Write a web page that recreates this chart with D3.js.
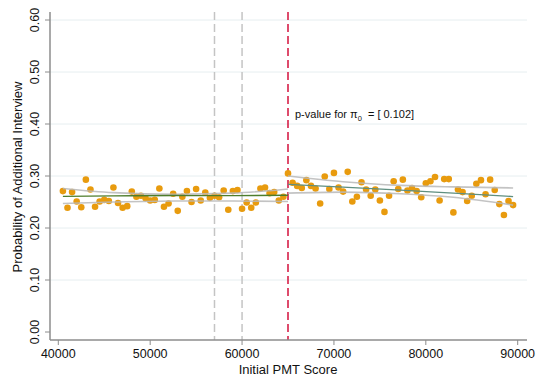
<!DOCTYPE html>
<html>
<head>
<meta charset="utf-8">
<script src="https://cdn.jsdelivr.net/npm/d3@7"></script>
<style>
  html, body { margin: 0; padding: 0; background: #fff; }
  svg { display: block; font-family: "Liberation Sans", Arial, sans-serif; }
</style>
</head>
<body>
<svg id="chart" width="540" height="379"></svg>
<script>
// binned scatter: PMT score bins of 500
const binStart = 40500;
const binStep = 500;
const probs = [
  0.271, 0.239, 0.269, 0.251, 0.240, 0.293, 0.274, 0.241, 0.251, 0.254,
  0.252, 0.278, 0.248, 0.239, 0.242, 0.270, 0.260, 0.262, 0.257, 0.253,
  0.254, 0.276, 0.241, 0.247, 0.266, 0.233, 0.260, 0.271, 0.250, 0.275,
  0.253, 0.268, 0.258, 0.262, 0.259, 0.272, 0.235, 0.271, 0.273, 0.237,
  0.249, 0.239, 0.249, 0.276, 0.278, 0.267, 0.269, 0.253, 0.260, 0.305,
  0.287, 0.281, 0.277, 0.292, 0.281, 0.276, 0.247, 0.299, 0.275, 0.306,
  0.278, 0.270, 0.308, 0.251, 0.260, 0.288, 0.274, 0.262, 0.274, 0.253,
  0.231, 0.262, 0.290, 0.275, 0.293, 0.272, 0.277, 0.271, 0.259, 0.286,
  0.290, 0.298, 0.253, 0.294, 0.294, 0.230, 0.274, 0.269, 0.252, 0.262,
  0.285, 0.292, 0.265, 0.293, 0.273, 0.246, 0.225, 0.252, 0.244
];
const scores = probs.map((_, i) => binStart + i * binStep);
const points = scores.map((s, i) => ({ x: s, y: probs[i] }));

// fitted lines and confidence bands
const leftX = [40500, 46000, 52750, 59000, 65000];
const leftFit = [0.2610, 0.2617, 0.2625, 0.2622, 0.2630];
const leftUpper = [0.2760, 0.2680, 0.2650, 0.2670, 0.2750];
const leftLower = [0.2470, 0.2500, 0.2520, 0.2520, 0.2510];

const rightX = [65000, 71000, 77250, 83000, 89500];
const rightFit = [0.2840, 0.2785, 0.2727, 0.2670, 0.2605];
const rightUpper = [0.3000, 0.2890, 0.2820, 0.2790, 0.2770];
const rightLower = [0.2670, 0.2690, 0.2660, 0.2590, 0.2440];

const grayCutoffs = [57000, 60000];
const redCutoff = 65000;

const xTicks = [40000, 50000, 60000, 70000, 80000, 90000];
const yTicks = [0, 0.1, 0.2, 0.3, 0.4, 0.5, 0.6];

const svg = d3.select("#chart");

const x = d3.scaleLinear().domain([40000, 90000]).range([58.3, 517.7]);
const y = d3.scaleLinear().domain([0, 0.6]).range([332, 20]);

const plotLeft = 50, plotRight = 527, plotTop = 12, plotBottom = 340;

// gridlines
svg.append("g").selectAll("line")
    .data(yTicks.filter(t => t > 0))
    .enter().append("line")
    .attr("x1", plotLeft).attr("x2", plotRight)
    .attr("y1", d => y(d)).attr("y2", d => y(d))
    .attr("stroke", "#e6eef0").attr("stroke-width", 1);

// cutoff lines
svg.append("g").selectAll("line")
    .data(grayCutoffs)
    .enter().append("line")
    .attr("x1", d => x(d)).attr("x2", d => x(d))
    .attr("y1", plotTop).attr("y2", plotBottom)
    .attr("stroke", "#c4c4c4").attr("stroke-width", 1.5)
    .attr("stroke-dasharray", "8,4");

svg.append("line")
    .attr("x1", x(redCutoff)).attr("x2", x(redCutoff))
    .attr("y1", plotTop).attr("y2", plotBottom)
    .attr("stroke", "#d4113c").attr("stroke-width", 1.5)
    .attr("stroke-dasharray", "8,4");

// dots
svg.append("g").selectAll("circle")
    .data(points)
    .enter().append("circle")
    .attr("cx", d => x(d.x))
    .attr("cy", d => y(d.y))
    .attr("r", 3.3)
    .attr("fill", "#e89b0e");

// fit lines
const line = d3.line()
    .x(d => x(d[0]))
    .y(d => y(d[1]))
    .curve(d3.curveMonotoneX);

function drawLine(xs, ys, color, w, op) {
    svg.append("path")
        .datum(xs.map((v, i) => [v, ys[i]]))
        .attr("d", line)
        .attr("fill", "none")
        .attr("stroke", color)
        .attr("stroke-width", w)
        .attr("stroke-opacity", op);
}

drawLine(leftX, leftUpper, "#b8b8b8", 1.6, 0.85);
drawLine(leftX, leftLower, "#b8b8b8", 1.6, 0.85);
drawLine(rightX, rightUpper, "#b8b8b8", 1.6, 0.85);
drawLine(rightX, rightLower, "#b8b8b8", 1.6, 0.85);
drawLine(leftX, leftFit, "#4e7d2c", 1.3, 1);
drawLine(rightX, rightFit, "#5f8f80", 1.3, 1);

// axes
svg.append("line")
    .attr("x1", plotLeft).attr("x2", plotLeft)
    .attr("y1", plotTop).attr("y2", plotBottom)
    .attr("stroke", "#8c8c8c").attr("stroke-width", 1.5);
svg.append("line")
    .attr("x1", plotLeft).attr("x2", plotRight)
    .attr("y1", plotBottom).attr("y2", plotBottom)
    .attr("stroke", "#8c8c8c").attr("stroke-width", 1.5);

// y ticks + labels
const yt = svg.append("g");
yt.selectAll("line").data(yTicks).enter().append("line")
    .attr("x1", plotLeft - 5).attr("x2", plotLeft)
    .attr("y1", d => y(d)).attr("y2", d => y(d))
    .attr("stroke", "#8c8c8c").attr("stroke-width", 1);
yt.selectAll("text").data(yTicks).enter().append("text")
    .attr("transform", d => `translate(38.5,${y(d)}) rotate(-90)`)
    .attr("text-anchor", "middle")
    .attr("font-size", 12.5)
    .attr("fill", "#111")
    .text(d => d3.format(".2f")(d));

// x ticks + labels
const xt = svg.append("g");
xt.selectAll("line").data(xTicks).enter().append("line")
    .attr("x1", d => x(d)).attr("x2", d => x(d))
    .attr("y1", plotBottom).attr("y2", plotBottom + 5)
    .attr("stroke", "#8c8c8c").attr("stroke-width", 1);
xt.selectAll("text").data(xTicks).enter().append("text")
    .attr("x", d => x(d)).attr("y", 358)
    .attr("text-anchor", "middle")
    .attr("font-size", 12.5)
    .attr("fill", "#111")
    .text(d => d);

// axis titles
svg.append("text")
    .attr("x", 288).attr("y", 374)
    .attr("text-anchor", "middle")
    .attr("font-size", 13)
    .attr("fill", "#111")
    .text("Initial PMT Score");

svg.append("text")
    .attr("transform", "translate(22,177) rotate(-90)")
    .attr("text-anchor", "middle")
    .attr("font-size", 13)
    .attr("fill", "#111")
    .text("Probability of Additional Interview");

// annotation
const note = svg.append("text")
    .attr("x", 295).attr("y", 118)
    .attr("font-size", 11)
    .attr("fill", "#111");
note.append("tspan").text("p-value for \u03c0");
note.append("tspan").attr("font-size", 7.5).attr("dy", 3).text("0");
note.append("tspan").attr("dy", -3).text("\u00a0\u00a0= [ 0.102]");
</script>
</body>
</html>
